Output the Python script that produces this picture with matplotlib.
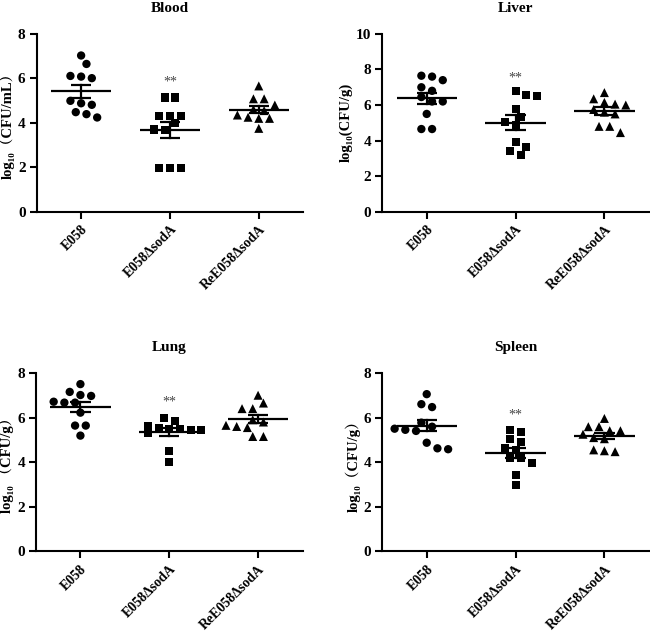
import numpy as np
import matplotlib
matplotlib.use('Agg')
import matplotlib.pyplot as plt

groups = ['E058', 'E058ΔsodA', 'ReE058ΔsodA']
panels = ['Blood', 'Liver', 'Lung', 'Spleen']
ylabels = ['log₁₀（CFU/mL）', 'log₁₀(CFU/g)', 'log₁₀ （CFU/g）', 'log₁₀（CFU/g）']
ymaxes = [8, 10, 8, 8]
sig_labels = ['', '**', '']

blood_e058 = [7.03, 6.65, 6.11, 6.01, 6.08, 4.88, 4.81, 4.99, 4.48, 4.24, 4.39]
blood_mut = [5.14, 5.14, 4.32, 4.32, 4.32, 3.98, 3.70, 3.68, 1.98, 1.98, 1.98]
blood_re = [5.66, 5.08, 5.08, 4.80, 4.60, 4.55, 4.35, 4.25, 4.20, 4.20, 3.75]

liver_e058 = [7.60, 7.65, 7.40, 7.00, 6.80, 6.45, 6.20, 6.20, 5.50, 4.65, 4.65]
liver_mut = [6.81, 6.53, 6.57, 5.76, 5.35, 5.07, 4.88, 3.94, 3.66, 3.42, 3.19]
liver_re = [6.70, 6.35, 6.15, 6.00, 6.05, 5.75, 5.60, 5.50, 4.80, 4.80, 4.45]

lung_e058 = [7.50, 7.15, 6.97, 7.01, 6.71, 6.67, 6.67, 6.22, 5.64, 5.64, 5.19]
lung_mut = [6.00, 5.85, 5.60, 5.55, 5.50, 5.50, 5.45, 5.45, 5.30, 4.50, 4.00]
lung_re = [7.00, 6.65, 6.40, 6.40, 5.90, 5.80, 5.65, 5.60, 5.55, 5.15, 5.15]

spleen_e058 = [7.05, 6.60, 6.47, 5.77, 5.59, 5.50, 5.45, 5.40, 4.87, 4.62, 4.58]
spleen_mut = [5.43, 5.34, 5.02, 4.92, 4.65, 4.55, 4.20, 4.20, 3.95, 3.42, 2.97]
spleen_re = [5.96, 5.59, 5.59, 5.41, 5.41, 5.25, 5.10, 5.05, 4.55, 4.47, 4.51]

data = {
    'Blood': [blood_e058, blood_mut, blood_re],
    'Liver': [liver_e058, liver_mut, liver_re],
    'Lung': [lung_e058, lung_mut, lung_re],
    'Spleen': [spleen_e058, spleen_mut, spleen_re],
}

markers = ['o', 's', '^']
msizes = [36, 34, 42]
serif = ['Liberation Serif', 'DejaVu Serif', 'Noto Serif CJK SC', 'Noto Sans CJK SC', 'DejaVu Sans']

W, H = 650, 637
fig = plt.figure(figsize=(W / 100, H / 100), dpi=100)

axes_rects = [
    [36.7 / W, 0.6677, 0.410, 0.2790],
    [382.3 / W, 0.6677, 0.410, 0.2790],
    [36.0 / W, 0.1345, 0.410, 0.2800],
    [382.3 / W, 0.1345, 0.410, 0.2800],
]


def swarm_offsets(vals, px_per_unit, diam=8.5, step=10.7):
    vals = np.asarray(vals, float)
    order = np.argsort(-vals, kind='stable')
    rows = []
    for idx in order:
        if rows and (vals[rows[-1][0]] - vals[idx]) * px_per_unit <= 0.5 * diam:
            rows[-1].append(idx)
        else:
            rows.append([idx])
    placed = []
    offs = np.zeros(len(vals))
    for row in rows:
        n = len(row)
        base = [(i - (n - 1) / 2) * step for i in range(n)]
        for shift in [0, 0.5, -0.5, 1, -1, 1.5, -1.5, 2, -2]:
            xs = [b + shift * step for b in base]
            ok = True
            for (px, py) in placed:
                for j, idx in enumerate(row):
                    d = np.hypot(xs[j] - px, vals[idx] * px_per_unit - py)
                    if d < 1.05 * diam:
                        ok = False
            if ok:
                break
        for j, idx in enumerate(row):
            offs[idx] = xs[j]
            placed.append((xs[j], vals[idx] * px_per_unit))
    return offs


for k, name in enumerate(panels):
    ax = fig.add_axes(axes_rects[k])
    ymax = ymaxes[k]
    ax_h_px = axes_rects[k][3] * H
    ax_w_px = axes_rects[k][2] * W
    px_per_unit = ax_h_px / ymax
    px_per_cat = ax_w_px / 3.0
    for g, vals in enumerate(data[name]):
        vals = np.asarray(vals)
        offs = swarm_offsets(vals, px_per_unit) / px_per_cat
        ax.scatter(g + offs, vals, marker=markers[g], s=msizes[g],
                   color='black', edgecolors='none', zorder=3, clip_on=False)
        m = vals.mean()
        sem = vals.std(ddof=1) / np.sqrt(len(vals))
        ax.plot([g - 0.34, g + 0.34], [m, m], color='black', lw=1.6, zorder=4,
                solid_capstyle='butt')
        ax.plot([g, g], [m - sem, m + sem], color='black', lw=1.6, zorder=4)
        for yv in (m - sem, m + sem):
            ax.plot([g - 0.115, g + 0.115], [yv, yv], color='black', lw=1.6,
                    zorder=4, solid_capstyle='butt')
        if sig_labels[g]:
            ax.text(g, vals.max() + 0.7, sig_labels[g], ha='center', va='center',
                    fontsize=10, color='#444444', family=serif)
    ax.set_xlim(-0.5, 2.5)
    ax.set_ylim(0, ymax)
    ax.set_yticks(np.arange(0, ymax + 1, 2))
    ax.set_xticks(range(3))
    ax.set_xticklabels(groups, rotation=45, ha='right', rotation_mode='anchor',
                       fontsize=10, fontweight='bold', family=serif)
    for lab in ax.get_yticklabels():
        lab.set_fontsize(11)
        lab.set_fontweight('bold')
        lab.set_family(serif)
    for s in ['top', 'right']:
        ax.spines[s].set_visible(False)
    for s in ['left', 'bottom']:
        ax.spines[s].set_linewidth(1.5)
    ax.tick_params(axis='both', direction='out', length=5, width=1.5, pad=3)
    ax.set_ylabel(ylabels[k], fontsize=10.5, fontweight='bold', family=serif, labelpad=2)
    ax.set_title(name, fontsize=11, fontweight='bold', family=serif, pad=16)

fig.savefig('out.png', dpi=100)
